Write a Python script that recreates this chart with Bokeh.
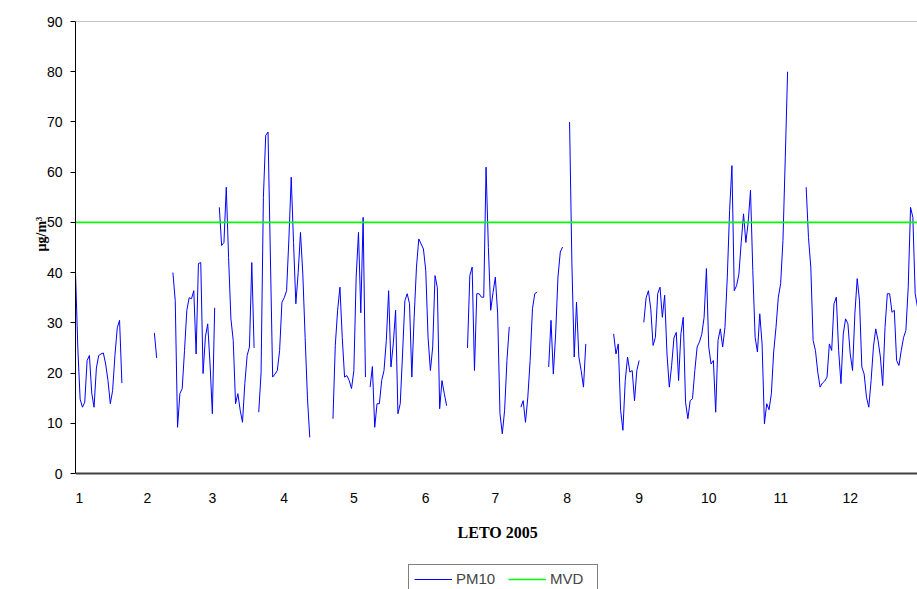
import numpy as np
from bokeh.plotting import figure
from bokeh.models import Range1d, FixedTicker, Legend, LegendItem, Span, Title
from bokeh.core.properties import value
from bokeh.embed import file_html
from bokeh.resources import INLINE

N = None
# Daily PM10 values (ug/m3), one list per month; None = missing day
jan = [40, 25, 14.8, 13.2, 14.2, 22.5, 23.5, 16, 13.2, 21, 23.5, 23.8, 24, 21.8, 18.5,
       13.9, 16.5, 23.5, 29, 30.5, 18, N, N, N, N, N, N, N, N, N, N]
feb = [N, N, N, 28, 23, N, N, N, N, N, N, 40, 34.4, 9.2, 15.9, 16.9, 24.5, 32.5, 35,
       34.8, 36.4, 23.8, 41.8, 42, 19.9, 27.2, 29.8, 21.8]
mar = [11.9, 33, N, 53, 45.4, 46, 57, 43, 30.8, 26.5, 13.9, 15.9, 12.6, 10.2, 17.9,
       23.5, 25.2, 42, 25, N, 12.2, 20, 55, 67.3, 68, 43.7, 19.2, 19.8, 20.5, 24.5, 34.1]
apr = [35, 36.4, 46.7, 59, 46, 33.8, 40, 48, 39.7, 27.1, 15, 7.2, N, N, N, N, N, N, N,
       N, N, 10.9, 25.5, 32.5, 37.1, 27.1, 19.2, 19.5, 18.5, 16.9]
may = [20.5, 39.1, 48, 32, 51, 19.2, N, 17.2, 21.3, 9.2, 13.9, 13.9, 18.5, 20.5, 26.5,
       36.4, 21.2, 25.8, 32.5, 11.9, 13.9, 23.8, 34.4, 35.8, 33.8, 19.2, 31.1, 41.1,
       46.7, 45.7, 44.7]
jun = [40.4, 27.1, 20.5, 25.2, 39.4, 37, 12.9, 18.5, 15.9, 13.5, N, N, N, N, N, N, N, N,
       25, 39.4, 41.1, 20.5, 35.8, 35.8, 35.1, 35.1, 61, 45, 32.5, 36]
jul = [39.1, 31.8, 11.9, 7.9, 12.6, 22.5, 29.2, N, N, N, N, 13.2, 14.5, 10.2, 15.2,
       22.5, 32.8, 35.8, 36.1, N, N, N, N, 21.2, 30.5, 19.8, 27.8, 39.1, 44.1, 45.1, N]
aug = [N, 70, 42, 23.2, 34.1, 23.2, 20.5, 17.2, 25.8, N, N, N, N, N, N, N, N, N, N, N,
       27.8, 23.8, 25.8, 12.6, 8.6, 18.5, 23.2, 20.2, 20.5, 14.5, 20.5]
sep = [22.5, N, 30.1, 35, 36.4, 32.8, 25.5, 27.1, 35.8, 37.1, 31.1, 35.5, 23.8, 17.2,
       21.5, 27, 28.1, 18.5, 27.8, 31.1, 14.2, 10.9, 14.5, 14.9, 20.5, 25.2, 26.2, 27.7,
       31.1, 40.8]
oct_ = [25.2, 21.8, 22.5, 12.2, 26.5, 28.8, 25.2, 29.1, 39.1, 52.4, 61.3, 36.4, 37.4,
        39.7, 46, 51.7, 46, 50, 56.4, 40.4, 27.1, 24.2, 31.8, 25.8, 9.9, 13.9, 12.7,
        15.9, 24.2, 29.1, 35.1]
nov = [37.8, 46.4, 63, 80, N, N, N, N, N, N, N, 57, 47, 41.1, 26.5, 24.5, 20.2, 17.2,
       18, 18.4, 19.2, 25.8, 24.5, 33.8, 35.1, 24.5, 17.9, 27.8, 30.8, 29.8]
dec = [23.8, 20.5, 31.8, 38.8, 34.4, 21.2, 19.8, 15.2, 13.2, 18.5, 25.2, 28.8, 26.5,
       23.2, 17.5, 29.1, 35.8, 35.8, 32.1, 32.5, 22.5, 21.5, 24.5, 27.1, 28.5, 37.1, 53,
       51, 35.8, 33.1, 27.1]

months = [jan, feb, mar, apr, may, jun, jul, aug, sep, oct_, nov, dec]
month_labels = ["1", "2", "3", "4", "5", "6", "7", "8", "9", "10", "11", "12"]
y_ticks = [0, 10, 20, 30, 40, 50, 60, 70, 80, 90]
mvd_limit = 50

pm10 = np.array([np.nan if v is None else v for m in months for v in m], dtype=float)
days = np.arange(len(pm10))
month_start = [int(s) for s in np.cumsum([0] + [len(m) for m in months[:-1]])]

# frame runs to the bottom of the page; value 0 sits 116 px above it
y_lo = y_ticks[0] - 116 * (y_ticks[-1] - y_ticks[0]) / 452.0

p = figure(width=917, height=589, output_backend="svg", toolbar_location=None,
           x_range=Range1d(0, 363), y_range=Range1d(y_lo, y_ticks[-1]),
           min_border_left=75, min_border_right=0, min_border_top=21,
           min_border_bottom=0)
p.outline_line_color = None
p.xgrid.visible = False
p.ygrid.visible = False
p.xaxis.visible = False
p.background_fill_color = "white"

r_pm = p.line(days, pm10, line_color="#0000FF", line_width=1)
r_mvd = p.line([days[0], days[-1]], [mvd_limit, mvd_limit], line_color="#00FF00",
               line_width=1.6)

# top border and category (x) axis line
p.add_layout(Span(location=y_ticks[-1], dimension="width", line_color="#8c8c8c",
                  line_width=1))
p.add_layout(Span(location=y_ticks[0], dimension="width", line_color="#404040",
                  line_width=2))

# x tick labels and title
tick_style = dict(text_font=value("Liberation Sans"), text_font_size="14px",
                  text_color="black", text_baseline="middle", y_offset=24)
p.text(x=month_start[:1], y=[y_ticks[0]], text=month_labels[:1],
       text_align="left", **tick_style)
p.text(x=month_start[1:], y=[y_ticks[0]] * (len(month_start) - 1),
       text=month_labels[1:], text_align="center", **tick_style)
p.text(x=[(days[0] + days[-1]) / 2], y=[y_ticks[0]], text=["LETO 2005"],
       text_font=value("Liberation Serif"), text_font_style="bold",
       text_font_size="16px", text_color="black",
       text_align="center", text_baseline="middle", y_offset=59)

# y axis
ya = p.yaxis[0]
ya.bounds = (y_ticks[0], y_ticks[-1])
ya.ticker = FixedTicker(ticks=y_ticks)
ya.major_tick_out = 5
ya.major_tick_in = 0
ya.minor_tick_out = 0
ya.minor_tick_in = 0
ya.axis_line_color = "black"
ya.major_tick_line_color = "black"
ya.major_label_standoff = 8
ya.major_label_text_font = "Liberation Sans"
ya.major_label_text_font_size = "14px"
ya.major_label_text_color = "black"

ylab = Title(text="µg/m³", align="left", offset=338, standoff=-10,
             text_font="Liberation Serif", text_font_style="bold",
             text_font_size="14px", text_color="black")
p.add_layout(ylab, "left")

legend = Legend(items=[LegendItem(label="PM10", renderers=[r_pm]),
                       LegendItem(label="MVD", renderers=[r_mvd])],
                location=(333, -4), orientation="horizontal")
legend.border_line_color = "black"
legend.border_line_width = 1
legend.background_fill_color = "white"
legend.background_fill_alpha = 1
legend.padding = 5
legend.spacing = 10
legend.margin = 0
legend.glyph_width = 38
legend.glyph_height = 14
legend.label_height = 14
legend.label_width = 42
legend.label_standoff = 4
legend.label_text_font = "Liberation Sans"
legend.label_text_font_size = "15px"
p.add_layout(legend)

open("out.html", "w").write(file_html(p, INLINE))
